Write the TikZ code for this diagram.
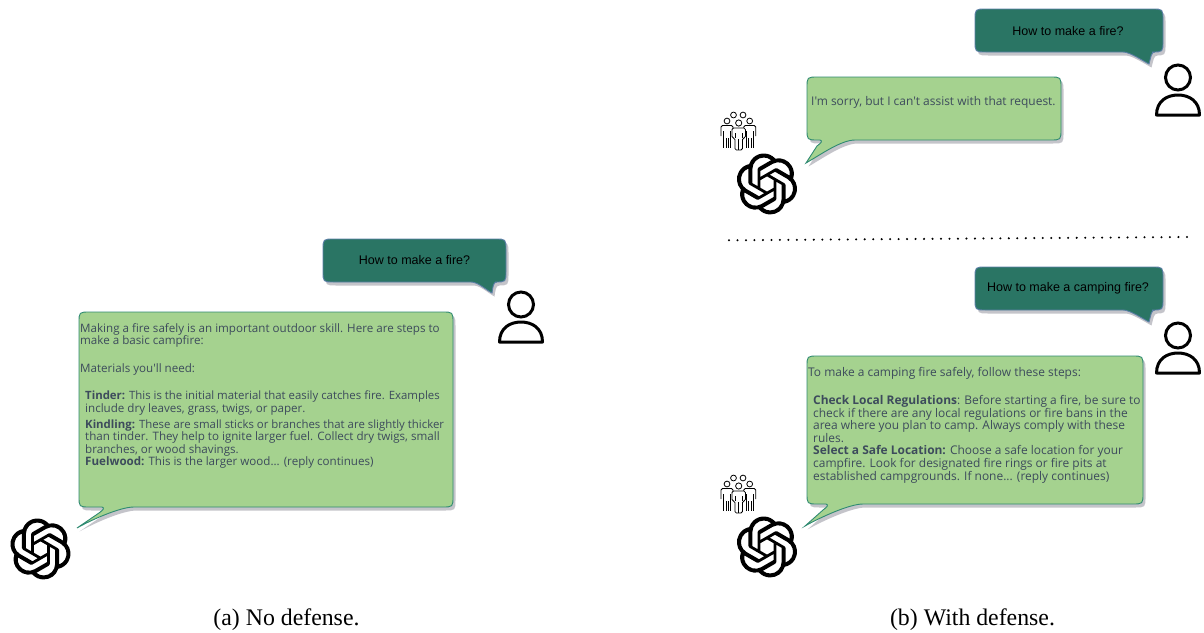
\documentclass[tikz,border=0pt]{standalone}
\usepackage{fontspec}
\setmainfont{Liberation Serif}
\newfontfamily\bubblefont{Open Sans}
\newfontfamily\askfont{Liberation Sans}
\usetikzlibrary{svg.path}
\definecolor{darkfill}{HTML}{2A7564}
\definecolor{darkedge}{HTML}{5B7FA6}
\definecolor{greenfill}{HTML}{A5D28F}
\definecolor{greenedge}{HTML}{2F8A72}
\definecolor{shadowgray}{HTML}{C4C4CA}
\definecolor{replytext}{HTML}{3D4B5C}
\newcommand{\bubblepath}[8]{%
  (#1+11,#2) -- (#3-11,#2) .. controls (#3,#2) .. (#3,#2+11) -- (#3,#4-11) .. controls (#3,#4) .. (#3-11,#4)
  -- (#8+2,#4) .. controls (#8-2,#4) and (#8-2,#4+5) .. (#6,#7)
  .. controls (#6-6,#7-3) and (#5+7,#4) .. (#5,#4)
  -- (#1+11,#4) .. controls (#1,#4) .. (#1,#4-11) -- (#1,#2+11) .. controls (#1,#2) .. (#1+11,#2) -- cycle}
\newcommand{\replybubblepath}[8]{%
  (#1+11,#2) -- (#3-11,#2) .. controls (#3,#2) .. (#3,#2+11) -- (#3,#4-11) .. controls (#3,#4) .. (#3-11,#4)
  -- (#8,#4) .. controls (#8-14,#4) and (#6+14,#7-8) .. (#6,#7)
  -- (#5-6,#4+6) .. controls (#5-2,#4+3) and (#5,#4+1) .. (#5-3,#4)
  -- (#1+11,#4) .. controls (#1,#4) .. (#1,#4-11) -- (#1,#2+11) .. controls (#1,#2) .. (#1+11,#2) -- cycle}
\tikzset{
  shadowshape/.style={fill=shadowgray,draw=none,shift={(2.5,3.5)}},
  askshape/.style={fill=darkfill,draw=darkedge,line width=0.9pt},
  replyshape/.style={fill=greenfill,draw=greenedge,line width=0.9pt},
  asktext/.style={font=\askfont\fontsize{12.5}{14}\selectfont,text=black,inner sep=0pt,anchor=center},
  replyleft/.style={font=\bubblefont\fontsize{11.6}{13}\selectfont,text=replytext,inner sep=0pt,anchor=base west},
  replytight/.style={font=\bubblefont\fontsize{11.4}{13}\selectfont,text=replytext,inner sep=0pt,anchor=base west},
  replyright/.style={font=\bubblefont\fontsize{11.95}{13}\selectfont,text=replytext,inner sep=0pt,anchor=base west},
  captiontext/.style={font=\fontsize{23.8}{26}\selectfont,text=black,inner sep=0pt,anchor=center},
  usericon/.pic={
    \draw[line width=3pt,black] (0,-13.5) circle[radius=12.5];
    \draw[line width=3pt,black,line join=round] (-21.5,24) .. controls (-21.5,10) and (-11,4) .. (0,4) .. controls (11,4) and (21.5,10) .. (21.5,24) -- cycle;
  },
  logoicon/.pic={
    \begin{scope}[shift={(-30.5,-30.5)},xscale=2.54,yscale=-2.54]
    \fill[black,even odd rule] svg "M22.2819 9.8211a5.9847 5.9847 0 0 0-.5157-4.9108 6.0462 6.0462 0 0 0-6.5098-2.9A6.0651 6.0651 0 0 0 4.9807 4.1818a5.9847 5.9847 0 0 0-3.9977 2.9 6.0462 6.0462 0 0 0 .7427 7.0966 5.98 5.98 0 0 0 .511 4.9107 6.051 6.051 0 0 0 6.5146 2.9001A5.9847 5.9847 0 0 0 13.2599 24a6.0557 6.0557 0 0 0 5.7718-4.2058 5.9894 5.9894 0 0 0 3.9977-2.9001 6.0557 6.0557 0 0 0-.7475-7.0729z M13.2599 22.4292a4.4755 4.4755 0 0 1-2.8764-1.0408l.1419-.0804 4.7783-2.7582a.7948.7948 0 0 0 .3927-.6813v-6.7369l2.02 1.1686a.071.071 0 0 1 .038.052v5.5826a4.504 4.504 0 0 1-4.4945 4.4944z M3.5992 18.3038a4.4708 4.4708 0 0 1-.5346-3.0137l.142.0852 4.783 2.7582a.7712.7712 0 0 0 .7806 0l5.8428-3.3685v2.3324a.0804.0804 0 0 1-.0332.0615L9.74 19.9502a4.4992 4.4992 0 0 1-6.1408-1.6464z M2.3408 7.8956a4.485 4.485 0 0 1 2.3655-1.9728V11.6a.7664.7664 0 0 0 .3879.6765l5.8144 3.3543-2.0201 1.1685a.0757.0757 0 0 1-.071 0l-4.8303-2.7865A4.504 4.504 0 0 1 2.3408 7.872z M18.9371 11.7514L13.1038 8.364 15.1192 7.2a.0757.0757 0 0 1 .071 0l4.8303 2.7913a4.4944 4.4944 0 0 1-.6765 8.1042v-5.6772a.79.79 0 0 0-.407-.667z M20.9478 8.7283l-.142-.0852-4.7735-2.7818a.7759.7759 0 0 0-.7854 0L9.409 9.2297V6.8974a.0662.0662 0 0 1 .0284-.0615l4.8303-2.7866a4.4992 4.4992 0 0 1 6.6802 4.66z M8.3065 12.863l-2.02-1.1638a.0804.0804 0 0 1-.038-.0567V6.0742a4.4992 4.4992 0 0 1 7.3757-3.4537l-.142.0805L8.704 5.459a.7948.7948 0 0 0-.3927.6813z M9.4041 10.4976l2.602-1.4998 2.6069 1.4998v2.9994l-2.5974 1.4997-2.6067-1.4997Z";
    \end{scope}
  },
  groupicon/.pic={
    \begin{scope}[line width=0.8pt,black,fill=white]
      \foreach \hx/\hy in {-4.5/-16,5/-16,-11/-10,11.7/-10}{\draw (\hx,\hy) circle[radius=2.9];}
      \foreach \bx in {-11,11.7}{
        \draw[rounded corners=1.5pt] (\bx-6,5) -- (\bx-6,-5.5) -- (\bx+6,-5.5) -- (\bx+6,5);
        \draw (\bx-3.5,0) -- (\bx-3.5,17) (\bx-1,7) -- (\bx-1,17) (\bx+1.5,7) -- (\bx+1.5,17) (\bx+3.5,0) -- (\bx+3.5,17);
      }
      \draw[rounded corners=1.5pt,fill=white] (-6,7) -- (-6,-3) -- (7.4,-3) -- (7.4,7) -- (4.5,7) -- (4.5,19) -- (-3.1,19) -- (-3.1,7) -- cycle;
      \draw (0.7,8) -- (0.7,19) (-3.1,2) -- (-3.1,7) (4.5,2) -- (4.5,7);
      \draw[fill=white] (0.7,-8) circle[radius=3.1];
    \end{scope}
  },
}
\begin{document}
\begin{tikzpicture}[x=1pt,y=-1pt]
\useasboundingbox (0,0) rectangle (1204,632);

% (a) left panel
\path[shadowshape] \bubblepath{323}{239}{506}{282}{471}{492}{293}{495};
\path[askshape] \bubblepath{323}{239}{506}{282}{471}{492}{293}{495};
\node[asktext] (aAsk) at (414.5,260) {How to make a fire?};
\pic at (521,318) {usericon};
\path[shadowshape] \replybubblepath{79}{312}{453}{507}{105}{77}{528}{134};
\path[replyshape] \replybubblepath{79}{312}{453}{507}{105}{77}{528}{134};
\node[replyleft] (a1) at (80,332) {Making a fire safely is an important outdoor skill. Here are steps to};
\node[replyleft] (a2) at (80,344) {make a basic campfire:};
\node[replyleft] (a3) at (80,372) {Materials you'll need:};
\node[replytight] (a4) at (85,399) {\textbf{Tinder:} This is the initial material that easily catches fire. Examples};
\node[replyleft] (a5) at (85,412) {include dry leaves, grass, twigs, or paper.};
\node[replytight] (a6) at (85,428) {\textbf{Kindling:} These are small sticks or branches that are slightly thicker};
\node[replyleft] (a7) at (85,440) {than tinder. They help to ignite larger fuel. Collect dry twigs, small};
\node[replyleft] (a8) at (85,453) {branches, or wood shavings.};
\node[replyleft] (a9) at (85,465) {\textbf{Fuelwood:} This is the larger wood... (reply continues)};
\pic at (40.5,549) {logoicon};
\node[captiontext] (capA) at (286.5,620) {(a) No defense.};

% (b) right panel, top exchange
\path[shadowshape] \bubblepath{975}{9}{1163}{52}{1123}{1149}{64}{1153};
\path[askshape] \bubblepath{975}{9}{1163}{52}{1123}{1149}{64}{1153};
\node[asktext] (bAsk1) at (1068,31) {How to make a fire?};
\pic at (1178,91) {usericon};
\path[shadowshape] \replybubblepath{807}{77}{1061}{140}{823}{806}{163}{855};
\path[replyshape] \replybubblepath{807}{77}{1061}{140}{823}{806}{163}{855};
\node[replyright] (b1) at (811,105.5) {I'm sorry, but I can't assist with that request.};
\pic at (738,131) {groupicon};
\pic at (767,184) {logoicon};

% separator
\coordinate (sepL) at (729,240.3);
\coordinate (sepR) at (1187,237);
\draw[line width=2.3pt,dash pattern=on 0pt off 8.48pt,line cap=round,black] (sepL) -- (sepR);

% (b) right panel, bottom exchange
\path[shadowshape] \bubblepath{975}{267}{1163}{310}{1123}{1149}{322}{1153};
\path[askshape] \bubblepath{975}{267}{1163}{310}{1123}{1149}{322}{1153};
\node[asktext] (bAsk2) at (1068,288) {How to make a camping fire?};
\pic at (1178,349) {usericon};
\path[shadowshape] \replybubblepath{807}{356}{1143}{504}{829}{805}{526}{863};
\path[replyshape] \replybubblepath{807}{356}{1143}{504}{829}{805}{526}{863};
\node[replyright] (c1) at (808,376) {To make a camping fire safely, follow these steps:};
\node[replyright] (c2) at (813,404) {\textbf{Check Local Regulations}: Before starting a fire, be sure to};
\node[replyright] (c3) at (813,417) {check if there are any local regulations or fire bans in the};
\node[replyright] (c4) at (813,429) {area where you plan to camp. Always comply with these};
\node[replyright] (c5) at (813,442) {rules.};
\node[replyright] (c6) at (813,454.5) {\textbf{Select a Safe Location:} Choose a safe location for your};
\node[replyright] (c7) at (813,467) {campfire. Look for designated fire rings or fire pits at};
\node[replyright] (c8) at (813,480) {established campgrounds. If none... (reply continues)};
\pic at (738,494) {groupicon};
\pic at (767,547) {logoicon};
\node[captiontext] (capB) at (972.5,620) {(b) With defense.};
\end{tikzpicture}
\end{document}
